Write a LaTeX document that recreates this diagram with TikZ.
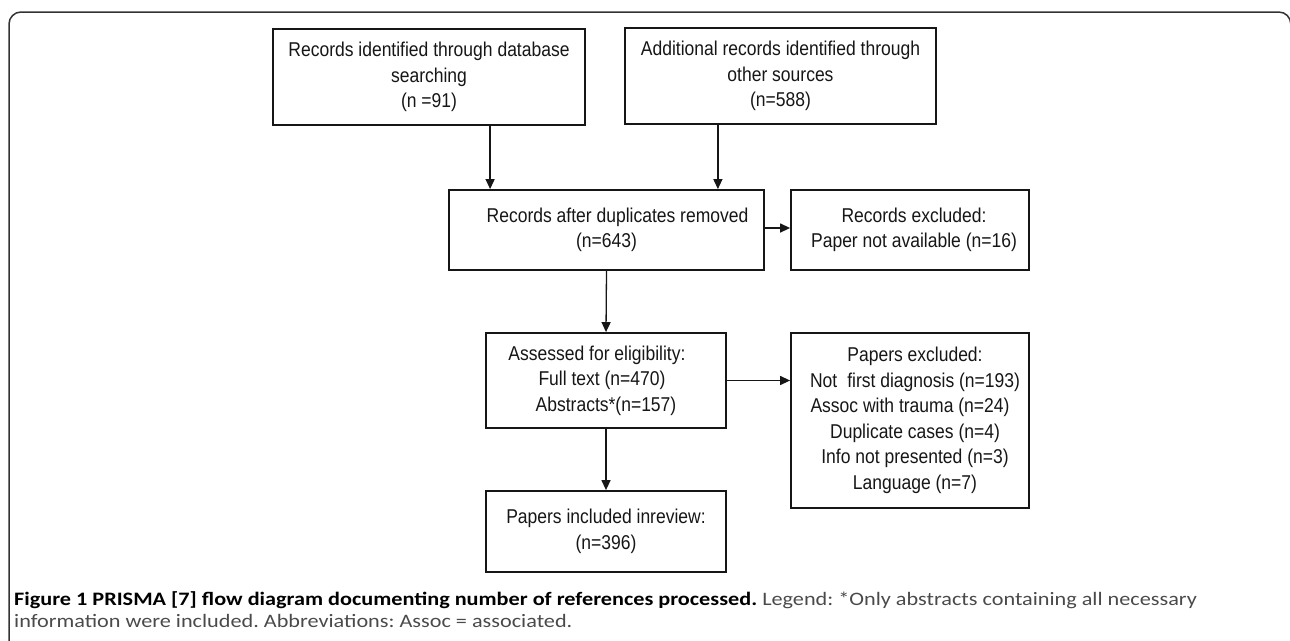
\documentclass[tikz,border=0pt]{standalone}
\usepackage{fontspec}
\setmainfont[FakeStretch=0.875]{Liberation Sans}
\newfontfamily\capfont[FakeStretch=1.17]{Carlito}
\usetikzlibrary{arrows.meta,calc}
\definecolor{ink}{HTML}{161616}
\definecolor{frame}{HTML}{333333}
\definecolor{capgray}{HTML}{4A4A4A}
\frenchspacing
\begin{document}
\begin{tikzpicture}[x=1pt,y=-1pt,
  box/.style={draw=ink, line width=1.8pt, align=center, text=ink, inner sep=0pt,
    font=\fontsize{20}{25.5}\selectfont},
  arr/.style={draw=ink, line width=1.3pt, -{Triangle[length=10pt,width=9pt]}},
  caption/.style={anchor=north west, align=left, inner sep=0pt, font=\capfont\fontsize{19}{22.5}\selectfont}
]
\useasboundingbox (0,0) rectangle (1290,640);
% frame
\draw[frame, line width=1.5pt, rounded corners=12pt] (9,660) -- (9,12) -- (1290.8,12) -- (1290.8,660);

\node[box, minimum width=312pt, minimum height=96pt] (b1) at (429,77)
  {Records identified through database\\searching\\(n =91)};
\node[box, minimum width=311pt, minimum height=96pt] (b2) at (780.5,76)
  {Additional records identified through\\other sources\\(n=588)};
\node[box, minimum width=315pt, minimum height=80pt] (b3) at (606.5,230)
  {\hspace*{22pt}Records after duplicates removed\\(n=643)};
\node[box, minimum width=238pt, minimum height=80pt] (b4) at (910,230)
  {\hspace*{8pt}Records excluded:\\\hspace*{8pt}Paper not available (n=16)};
\node[box, minimum width=240pt, minimum height=95pt] (b5) at (606,380.5)
  {\hspace*{-18pt}Assessed for eligibility:\\\hspace*{-8pt}Full text (n=470)\\Abstracts*(n=157)};
\node[box, minimum width=238pt, minimum height=175pt] (b6) at (910,420.5)
  {\hspace*{10pt}Papers excluded:\\\hspace*{10pt}Not\hspace{0.5em}first diagnosis (n=193)\\Assoc with trauma (n=24)\\\hspace*{10pt}Duplicate cases (n=4)\\\hspace*{10pt}Info not presented (n=3)\\\hspace*{10pt}Language (n=7)};
\node[box, minimum width=240pt, minimum height=81pt] (b7) at (606,531.5)
  {Papers included inreview:\\(n=396)};

\draw[arr] ([xshift=42pt]b3.north west |- b1.south) -- ([xshift=42pt]b3.north west);
\draw[arr] ([xshift=-47pt]b3.north east |- b2.south) -- ([xshift=-47pt]b3.north east);
\draw[arr] ([yshift=2pt]b3.east) -- ([yshift=2pt]b3.east -| b4.west);
\draw[arr] (b3.south) -- (b5.north);
\draw[arr] (b5.east) -- (b5.east -| b6.west);
\draw[arr] (b5.south) -- (b7.north);

\node[caption] (cap) at (14,591)
  {\textbf{Figure 1 PRISMA [7] flow diagram documenting number of references processed.} {\color{capgray}Legend: *Only abstracts containing all necessary}\\
   {\color{capgray}information were included. Abbreviations: Assoc = associated.}};
\end{tikzpicture}
\end{document}
